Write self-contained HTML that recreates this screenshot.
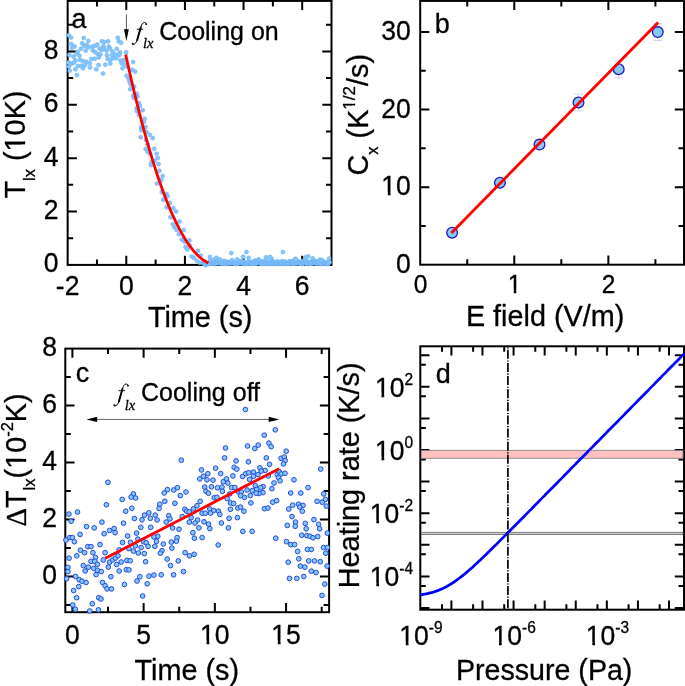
<!DOCTYPE html>
<html><head><meta charset="utf-8"><style>
html,body{margin:0;padding:0;background:#fff;width:685px;height:686px;overflow:hidden}
svg{display:block;will-change:transform}
text{font-family:"Liberation Sans", sans-serif;fill:#000;stroke:#000;stroke-width:0.3px}
.it{font-family:"Liberation Serif",serif;font-style:italic}
.sf{font-family:"Liberation Serif",serif}
</style></head><body>
<svg width="685" height="686" viewBox="0 0 685 686">
<rect width="685" height="686" fill="#fff"/>
<rect x="67.65" y="0.90" width="263.85" height="264.00" fill="none" stroke="#000" stroke-width="2.0"/>
<path d="M126.29,264.90V255.70M126.29,0.90V10.10M184.93,264.90V255.70M184.93,0.90V10.10M243.57,264.90V255.70M243.57,0.90V10.10M302.21,264.90V255.70M302.21,0.90V10.10" stroke="#000" stroke-width="2.0" fill="none"/>
<path d="M96.97,264.90V259.40M96.97,0.90V6.40M155.61,264.90V259.40M155.61,0.90V6.40M214.25,264.90V259.40M214.25,0.90V6.40M272.89,264.90V259.40M272.89,0.90V6.40" stroke="#000" stroke-width="2.0" fill="none"/>
<path d="M67.65,211.52H76.85M331.50,211.52H322.30M67.65,158.14H76.85M331.50,158.14H322.30M67.65,104.76H76.85M331.50,104.76H322.30M67.65,51.38H76.85M331.50,51.38H322.30" stroke="#000" stroke-width="2.0" fill="none"/>
<path d="M67.65,238.21H73.15M331.50,238.21H326.00M67.65,184.83H73.15M331.50,184.83H326.00M67.65,131.45H73.15M331.50,131.45H326.00M67.65,78.07H73.15M331.50,78.07H326.00M67.65,24.69H73.15M331.50,24.69H326.00" stroke="#000" stroke-width="2.0" fill="none"/>
<text transform="translate(58.40,272.30) scale(1,1.04)" font-size="26.5" text-anchor="end">0</text>
<text transform="translate(58.40,218.92) scale(1,1.04)" font-size="26.5" text-anchor="end">2</text>
<text transform="translate(58.40,165.54) scale(1,1.04)" font-size="26.5" text-anchor="end">4</text>
<text transform="translate(58.40,112.16) scale(1,1.04)" font-size="26.5" text-anchor="end">6</text>
<text transform="translate(58.40,58.78) scale(1,1.04)" font-size="26.5" text-anchor="end">8</text>
<text transform="translate(67.65,294.60) scale(1,1.04)" font-size="26.5" text-anchor="middle">-2</text>
<text transform="translate(126.29,294.60) scale(1,1.04)" font-size="26.5" text-anchor="middle">0</text>
<text transform="translate(184.93,294.60) scale(1,1.04)" font-size="26.5" text-anchor="middle">2</text>
<text transform="translate(243.57,294.60) scale(1,1.04)" font-size="26.5" text-anchor="middle">4</text>
<text transform="translate(302.21,294.60) scale(1,1.04)" font-size="26.5" text-anchor="middle">6</text>
<text x="147.90" y="327.30" font-size="28.8" text-anchor="start" >Time (s)</text>
<text transform="translate(25.4,198.5) rotate(-90)" font-size="28.8">T<tspan font-size="16.5" dy="9.8">lx</tspan><tspan dy="-9.8"> (10K)</tspan></text>
<text x="71.50" y="27.60" font-size="27" text-anchor="start" >a</text>
<g fill="#82c8ff" stroke="#6aaaf2" stroke-width="0.5"><circle cx="128.5" cy="78.5" r="2.05"/><circle cx="129.5" cy="81.6" r="2.05"/><circle cx="130.6" cy="84.4" r="2.05"/><circle cx="130.2" cy="89.2" r="2.05"/><circle cx="134.2" cy="86.5" r="2.05"/><circle cx="136.6" cy="93.6" r="2.05"/><circle cx="133.3" cy="95.5" r="2.05"/><circle cx="137.5" cy="96.5" r="2.05"/><circle cx="133.7" cy="97.9" r="2.05"/><circle cx="138.9" cy="103.1" r="2.05"/><circle cx="136.6" cy="108.3" r="2.05"/><circle cx="139.9" cy="105.9" r="2.05"/><circle cx="142.7" cy="110.2" r="2.05"/><circle cx="137.0" cy="111.1" r="2.05"/><circle cx="138.9" cy="114.9" r="2.05"/><circle cx="144.6" cy="118.7" r="2.05"/><circle cx="143.7" cy="122.0" r="2.05"/><circle cx="141.3" cy="127.2" r="2.05"/><circle cx="145.6" cy="127.1" r="2.05"/><circle cx="141.3" cy="129.9" r="2.05"/><circle cx="146.5" cy="132.0" r="2.05"/><circle cx="149.8" cy="134.8" r="2.05"/><circle cx="152.7" cy="138.1" r="2.05"/><circle cx="140.8" cy="137.2" r="2.05"/><circle cx="146.0" cy="140.0" r="2.05"/><circle cx="147.6" cy="144.3" r="2.05"/><circle cx="145.7" cy="149.0" r="2.05"/><circle cx="147.6" cy="151.8" r="2.05"/><circle cx="154.2" cy="148.7" r="2.05"/><circle cx="156.6" cy="153.7" r="2.05"/><circle cx="157.8" cy="158.0" r="2.05"/><circle cx="150.4" cy="154.2" r="2.05"/><circle cx="151.4" cy="162.3" r="2.05"/><circle cx="150.9" cy="165.1" r="2.05"/><circle cx="154.7" cy="160.8" r="2.05"/><circle cx="158.5" cy="164.1" r="2.05"/><circle cx="159.4" cy="170.8" r="2.05"/><circle cx="162.7" cy="176.0" r="2.05"/><circle cx="161.3" cy="179.8" r="2.05"/><circle cx="157.0" cy="183.6" r="2.05"/><circle cx="161.8" cy="192.1" r="2.05"/><circle cx="166.5" cy="194.0" r="2.05"/><circle cx="167.5" cy="196.3" r="2.05"/><circle cx="163.2" cy="199.7" r="2.05"/><circle cx="169.8" cy="203.0" r="2.05"/><circle cx="166.6" cy="207.3" r="2.05"/><circle cx="173.3" cy="208.2" r="2.05"/><circle cx="176.1" cy="211.5" r="2.05"/><circle cx="170.4" cy="217.2" r="2.05"/><circle cx="179.4" cy="221.5" r="2.05"/><circle cx="172.8" cy="224.3" r="2.05"/><circle cx="174.2" cy="227.1" r="2.05"/><circle cx="176.6" cy="230.0" r="2.05"/><circle cx="183.7" cy="230.0" r="2.05"/><circle cx="178.9" cy="234.2" r="2.05"/><circle cx="181.8" cy="239.5" r="2.05"/><circle cx="184.6" cy="241.8" r="2.05"/><circle cx="189.4" cy="240.4" r="2.05"/><circle cx="185.6" cy="247.0" r="2.05"/><circle cx="187.5" cy="249.4" r="2.05"/><circle cx="189.8" cy="245.6" r="2.05"/><circle cx="197.9" cy="250.8" r="2.05"/><circle cx="191.7" cy="256.5" r="2.05"/><circle cx="194.1" cy="257.9" r="2.05"/><circle cx="200.7" cy="255.6" r="2.05"/><circle cx="196.9" cy="260.8" r="2.05"/><circle cx="199.8" cy="262.7" r="2.05"/><circle cx="203.6" cy="263.6" r="2.05"/><circle cx="68.7" cy="35.2" r="2.05"/><circle cx="71.0" cy="37.5" r="2.05"/><circle cx="83.8" cy="38.0" r="2.05"/><circle cx="88.4" cy="41.0" r="2.05"/><circle cx="101.9" cy="41.3" r="2.05"/><circle cx="71.2" cy="43.9" r="2.05"/><circle cx="74.6" cy="46.4" r="2.05"/><circle cx="72.0" cy="48.1" r="2.05"/><circle cx="82.2" cy="43.2" r="2.05"/><circle cx="84.1" cy="46.0" r="2.05"/><circle cx="86.7" cy="45.0" r="2.05"/><circle cx="88.6" cy="47.3" r="2.05"/><circle cx="92.4" cy="46.6" r="2.05"/><circle cx="95.1" cy="45.8" r="2.05"/><circle cx="97.3" cy="44.5" r="2.05"/><circle cx="99.6" cy="48.5" r="2.05"/><circle cx="101.5" cy="50.0" r="2.05"/><circle cx="103.4" cy="46.2" r="2.05"/><circle cx="81.0" cy="48.8" r="2.05"/><circle cx="85.8" cy="50.6" r="2.05"/><circle cx="92.8" cy="50.3" r="2.05"/><circle cx="95.1" cy="52.1" r="2.05"/><circle cx="97.7" cy="54.1" r="2.05"/><circle cx="100.4" cy="54.5" r="2.05"/><circle cx="98.8" cy="57.5" r="2.05"/><circle cx="77.6" cy="51.9" r="2.05"/><circle cx="76.5" cy="53.8" r="2.05"/><circle cx="79.5" cy="55.7" r="2.05"/><circle cx="69.3" cy="54.9" r="2.05"/><circle cx="73.5" cy="56.8" r="2.05"/><circle cx="75.4" cy="60.6" r="2.05"/><circle cx="79.9" cy="59.8" r="2.05"/><circle cx="82.9" cy="61.0" r="2.05"/><circle cx="86.3" cy="61.7" r="2.05"/><circle cx="89.8" cy="63.2" r="2.05"/><circle cx="91.3" cy="59.1" r="2.05"/><circle cx="94.7" cy="58.7" r="2.05"/><circle cx="68.5" cy="62.5" r="2.05"/><circle cx="71.6" cy="63.6" r="2.05"/><circle cx="73.8" cy="62.8" r="2.05"/><circle cx="68.9" cy="66.6" r="2.05"/><circle cx="78.0" cy="65.9" r="2.05"/><circle cx="81.4" cy="65.7" r="2.05"/><circle cx="85.2" cy="65.1" r="2.05"/><circle cx="90.1" cy="67.4" r="2.05"/><circle cx="82.9" cy="68.2" r="2.05"/><circle cx="75.4" cy="69.3" r="2.05"/><circle cx="69.7" cy="70.8" r="2.05"/><circle cx="98.5" cy="65.1" r="2.05"/><circle cx="96.2" cy="69.3" r="2.05"/><circle cx="77.0" cy="75.0" r="2.05"/><circle cx="103.0" cy="73.5" r="2.05"/><circle cx="117.8" cy="37.7" r="2.05"/><circle cx="118.8" cy="41.3" r="2.05"/><circle cx="121.1" cy="42.8" r="2.05"/><circle cx="108.1" cy="41.3" r="2.05"/><circle cx="104.3" cy="42.0" r="2.05"/><circle cx="108.8" cy="46.6" r="2.05"/><circle cx="110.0" cy="48.8" r="2.05"/><circle cx="103.9" cy="48.8" r="2.05"/><circle cx="106.5" cy="50.7" r="2.05"/><circle cx="112.6" cy="51.5" r="2.05"/><circle cx="116.8" cy="48.8" r="2.05"/><circle cx="120.0" cy="52.4" r="2.05"/><circle cx="126.1" cy="52.4" r="2.05"/><circle cx="115.6" cy="54.5" r="2.05"/><circle cx="111.8" cy="55.3" r="2.05"/><circle cx="106.9" cy="55.3" r="2.05"/><circle cx="119.4" cy="54.9" r="2.05"/><circle cx="113.4" cy="58.3" r="2.05"/><circle cx="107.7" cy="59.1" r="2.05"/><circle cx="110.3" cy="59.8" r="2.05"/><circle cx="116.4" cy="58.3" r="2.05"/><circle cx="120.6" cy="60.6" r="2.05"/><circle cx="124.0" cy="59.8" r="2.05"/><circle cx="121.7" cy="63.2" r="2.05"/><circle cx="124.7" cy="64.4" r="2.05"/><circle cx="133.1" cy="62.1" r="2.05"/><circle cx="110.3" cy="63.6" r="2.05"/><circle cx="105.4" cy="64.7" r="2.05"/><circle cx="122.5" cy="68.2" r="2.05"/><circle cx="127.0" cy="66.6" r="2.05"/><circle cx="132.3" cy="69.7" r="2.05"/><circle cx="135.0" cy="71.6" r="2.05"/><circle cx="126.6" cy="75.7" r="2.05"/><circle cx="204.3" cy="263.3" r="2.05"/><circle cx="204.9" cy="261.6" r="2.05"/><circle cx="205.4" cy="264.9" r="2.05"/><circle cx="206.0" cy="264.9" r="2.05"/><circle cx="206.5" cy="263.2" r="2.05"/><circle cx="207.1" cy="263.9" r="2.05"/><circle cx="207.6" cy="263.2" r="2.05"/><circle cx="208.1" cy="263.2" r="2.05"/><circle cx="208.7" cy="263.8" r="2.05"/><circle cx="209.2" cy="263.9" r="2.05"/><circle cx="209.8" cy="261.8" r="2.05"/><circle cx="210.3" cy="260.9" r="2.05"/><circle cx="210.8" cy="261.0" r="2.05"/><circle cx="211.4" cy="260.3" r="2.05"/><circle cx="211.9" cy="263.7" r="2.05"/><circle cx="212.5" cy="263.1" r="2.05"/><circle cx="213.0" cy="263.8" r="2.05"/><circle cx="213.6" cy="263.2" r="2.05"/><circle cx="214.1" cy="262.7" r="2.05"/><circle cx="214.6" cy="259.3" r="2.05"/><circle cx="215.2" cy="263.0" r="2.05"/><circle cx="215.7" cy="263.8" r="2.05"/><circle cx="216.3" cy="262.0" r="2.05"/><circle cx="216.8" cy="261.8" r="2.05"/><circle cx="217.4" cy="262.6" r="2.05"/><circle cx="217.9" cy="262.9" r="2.05"/><circle cx="218.4" cy="260.3" r="2.05"/><circle cx="219.0" cy="263.0" r="2.05"/><circle cx="219.5" cy="262.9" r="2.05"/><circle cx="220.1" cy="262.9" r="2.05"/><circle cx="220.6" cy="262.9" r="2.05"/><circle cx="221.2" cy="263.2" r="2.05"/><circle cx="221.7" cy="262.1" r="2.05"/><circle cx="222.2" cy="263.7" r="2.05"/><circle cx="222.8" cy="262.1" r="2.05"/><circle cx="223.3" cy="262.7" r="2.05"/><circle cx="223.9" cy="260.8" r="2.05"/><circle cx="224.4" cy="263.8" r="2.05"/><circle cx="225.0" cy="262.9" r="2.05"/><circle cx="225.5" cy="263.4" r="2.05"/><circle cx="226.0" cy="261.5" r="2.05"/><circle cx="226.6" cy="263.5" r="2.05"/><circle cx="227.1" cy="263.8" r="2.05"/><circle cx="227.7" cy="262.2" r="2.05"/><circle cx="228.2" cy="263.3" r="2.05"/><circle cx="228.7" cy="262.9" r="2.05"/><circle cx="229.3" cy="262.9" r="2.05"/><circle cx="229.8" cy="262.3" r="2.05"/><circle cx="230.4" cy="263.0" r="2.05"/><circle cx="230.9" cy="263.4" r="2.05"/><circle cx="231.5" cy="260.7" r="2.05"/><circle cx="232.0" cy="262.5" r="2.05"/><circle cx="232.5" cy="260.4" r="2.05"/><circle cx="233.1" cy="263.0" r="2.05"/><circle cx="233.6" cy="263.2" r="2.05"/><circle cx="234.2" cy="263.6" r="2.05"/><circle cx="234.7" cy="263.1" r="2.05"/><circle cx="235.3" cy="263.8" r="2.05"/><circle cx="235.8" cy="262.3" r="2.05"/><circle cx="236.3" cy="262.6" r="2.05"/><circle cx="236.9" cy="263.7" r="2.05"/><circle cx="237.4" cy="263.0" r="2.05"/><circle cx="238.0" cy="260.8" r="2.05"/><circle cx="238.5" cy="263.4" r="2.05"/><circle cx="239.1" cy="262.6" r="2.05"/><circle cx="239.6" cy="262.8" r="2.05"/><circle cx="240.1" cy="262.7" r="2.05"/><circle cx="240.7" cy="261.5" r="2.05"/><circle cx="241.2" cy="261.7" r="2.05"/><circle cx="241.8" cy="263.5" r="2.05"/><circle cx="242.3" cy="262.4" r="2.05"/><circle cx="242.9" cy="263.1" r="2.05"/><circle cx="243.4" cy="262.7" r="2.05"/><circle cx="243.9" cy="261.9" r="2.05"/><circle cx="244.5" cy="263.7" r="2.05"/><circle cx="245.0" cy="263.9" r="2.05"/><circle cx="245.6" cy="263.4" r="2.05"/><circle cx="246.1" cy="264.0" r="2.05"/><circle cx="246.6" cy="263.5" r="2.05"/><circle cx="247.2" cy="262.7" r="2.05"/><circle cx="247.7" cy="262.9" r="2.05"/><circle cx="248.3" cy="263.4" r="2.05"/><circle cx="248.8" cy="261.6" r="2.05"/><circle cx="249.4" cy="263.0" r="2.05"/><circle cx="249.9" cy="262.8" r="2.05"/><circle cx="250.4" cy="263.9" r="2.05"/><circle cx="251.0" cy="263.2" r="2.05"/><circle cx="251.5" cy="263.7" r="2.05"/><circle cx="252.1" cy="262.0" r="2.05"/><circle cx="252.6" cy="263.2" r="2.05"/><circle cx="253.2" cy="263.9" r="2.05"/><circle cx="253.7" cy="261.5" r="2.05"/><circle cx="254.2" cy="263.7" r="2.05"/><circle cx="254.8" cy="262.1" r="2.05"/><circle cx="255.3" cy="260.5" r="2.05"/><circle cx="255.9" cy="262.4" r="2.05"/><circle cx="256.4" cy="263.7" r="2.05"/><circle cx="257.0" cy="262.7" r="2.05"/><circle cx="257.5" cy="262.5" r="2.05"/><circle cx="258.0" cy="261.5" r="2.05"/><circle cx="258.6" cy="259.3" r="2.05"/><circle cx="259.1" cy="261.0" r="2.05"/><circle cx="259.7" cy="262.1" r="2.05"/><circle cx="260.2" cy="262.7" r="2.05"/><circle cx="260.8" cy="263.9" r="2.05"/><circle cx="261.3" cy="261.3" r="2.05"/><circle cx="261.8" cy="263.6" r="2.05"/><circle cx="262.4" cy="263.6" r="2.05"/><circle cx="262.9" cy="262.6" r="2.05"/><circle cx="263.5" cy="263.7" r="2.05"/><circle cx="264.0" cy="261.3" r="2.05"/><circle cx="264.5" cy="263.9" r="2.05"/><circle cx="265.1" cy="262.4" r="2.05"/><circle cx="265.6" cy="262.4" r="2.05"/><circle cx="266.2" cy="263.7" r="2.05"/><circle cx="266.7" cy="263.4" r="2.05"/><circle cx="267.3" cy="260.7" r="2.05"/><circle cx="267.8" cy="262.5" r="2.05"/><circle cx="268.3" cy="263.9" r="2.05"/><circle cx="268.9" cy="263.2" r="2.05"/><circle cx="269.4" cy="263.8" r="2.05"/><circle cx="270.0" cy="263.5" r="2.05"/><circle cx="270.5" cy="263.9" r="2.05"/><circle cx="271.1" cy="262.9" r="2.05"/><circle cx="271.6" cy="258.8" r="2.05"/><circle cx="272.1" cy="261.8" r="2.05"/><circle cx="272.7" cy="262.1" r="2.05"/><circle cx="273.2" cy="262.2" r="2.05"/><circle cx="273.8" cy="263.9" r="2.05"/><circle cx="274.3" cy="263.9" r="2.05"/><circle cx="274.9" cy="263.1" r="2.05"/><circle cx="275.4" cy="262.3" r="2.05"/><circle cx="275.9" cy="262.9" r="2.05"/><circle cx="276.5" cy="261.9" r="2.05"/><circle cx="277.0" cy="264.0" r="2.05"/><circle cx="277.6" cy="261.2" r="2.05"/><circle cx="278.1" cy="263.2" r="2.05"/><circle cx="278.7" cy="263.4" r="2.05"/><circle cx="279.2" cy="263.6" r="2.05"/><circle cx="279.7" cy="263.8" r="2.05"/><circle cx="280.3" cy="263.5" r="2.05"/><circle cx="280.8" cy="262.1" r="2.05"/><circle cx="281.4" cy="264.0" r="2.05"/><circle cx="281.9" cy="263.1" r="2.05"/><circle cx="282.4" cy="261.1" r="2.05"/><circle cx="283.0" cy="262.4" r="2.05"/><circle cx="283.5" cy="262.9" r="2.05"/><circle cx="284.1" cy="263.6" r="2.05"/><circle cx="284.6" cy="263.6" r="2.05"/><circle cx="285.2" cy="261.5" r="2.05"/><circle cx="285.7" cy="263.9" r="2.05"/><circle cx="286.2" cy="262.9" r="2.05"/><circle cx="286.8" cy="263.2" r="2.05"/><circle cx="287.3" cy="263.4" r="2.05"/><circle cx="287.9" cy="263.9" r="2.05"/><circle cx="288.4" cy="263.3" r="2.05"/><circle cx="289.0" cy="263.6" r="2.05"/><circle cx="289.5" cy="261.4" r="2.05"/><circle cx="290.0" cy="262.6" r="2.05"/><circle cx="290.6" cy="262.7" r="2.05"/><circle cx="291.1" cy="261.8" r="2.05"/><circle cx="291.7" cy="263.5" r="2.05"/><circle cx="292.2" cy="263.7" r="2.05"/><circle cx="292.8" cy="262.4" r="2.05"/><circle cx="293.3" cy="260.7" r="2.05"/><circle cx="293.8" cy="263.6" r="2.05"/><circle cx="294.4" cy="263.5" r="2.05"/><circle cx="294.9" cy="262.2" r="2.05"/><circle cx="295.5" cy="258.8" r="2.05"/><circle cx="296.0" cy="263.6" r="2.05"/><circle cx="296.6" cy="260.8" r="2.05"/><circle cx="297.1" cy="263.0" r="2.05"/><circle cx="297.6" cy="262.9" r="2.05"/><circle cx="298.2" cy="261.6" r="2.05"/><circle cx="298.7" cy="262.5" r="2.05"/><circle cx="299.3" cy="263.2" r="2.05"/><circle cx="299.8" cy="263.6" r="2.05"/><circle cx="300.3" cy="263.5" r="2.05"/><circle cx="300.9" cy="263.9" r="2.05"/><circle cx="301.4" cy="263.8" r="2.05"/><circle cx="302.0" cy="261.0" r="2.05"/><circle cx="302.5" cy="263.9" r="2.05"/><circle cx="303.1" cy="263.3" r="2.05"/><circle cx="303.6" cy="261.7" r="2.05"/><circle cx="304.1" cy="262.8" r="2.05"/><circle cx="304.7" cy="261.2" r="2.05"/><circle cx="305.2" cy="262.9" r="2.05"/><circle cx="305.8" cy="260.4" r="2.05"/><circle cx="306.3" cy="262.7" r="2.05"/><circle cx="306.9" cy="263.9" r="2.05"/><circle cx="307.4" cy="262.1" r="2.05"/><circle cx="307.9" cy="262.1" r="2.05"/><circle cx="308.5" cy="262.3" r="2.05"/><circle cx="309.0" cy="263.2" r="2.05"/><circle cx="309.6" cy="263.8" r="2.05"/><circle cx="310.1" cy="263.4" r="2.05"/><circle cx="310.7" cy="261.7" r="2.05"/><circle cx="311.2" cy="263.7" r="2.05"/><circle cx="311.7" cy="262.4" r="2.05"/><circle cx="312.3" cy="262.7" r="2.05"/><circle cx="312.8" cy="263.3" r="2.05"/><circle cx="313.4" cy="262.3" r="2.05"/><circle cx="313.9" cy="262.0" r="2.05"/><circle cx="314.5" cy="262.7" r="2.05"/><circle cx="315.0" cy="260.9" r="2.05"/><circle cx="315.5" cy="263.0" r="2.05"/><circle cx="316.1" cy="263.4" r="2.05"/><circle cx="316.6" cy="262.2" r="2.05"/><circle cx="317.2" cy="263.7" r="2.05"/><circle cx="317.7" cy="262.9" r="2.05"/><circle cx="318.2" cy="261.3" r="2.05"/><circle cx="318.8" cy="262.4" r="2.05"/><circle cx="319.3" cy="262.2" r="2.05"/><circle cx="319.9" cy="259.7" r="2.05"/><circle cx="320.4" cy="263.9" r="2.05"/><circle cx="321.0" cy="262.6" r="2.05"/><circle cx="321.5" cy="262.3" r="2.05"/><circle cx="322.0" cy="263.9" r="2.05"/><circle cx="322.6" cy="261.5" r="2.05"/><circle cx="323.1" cy="262.9" r="2.05"/><circle cx="323.7" cy="262.6" r="2.05"/><circle cx="324.2" cy="261.6" r="2.05"/><circle cx="324.8" cy="263.3" r="2.05"/><circle cx="325.3" cy="262.8" r="2.05"/><circle cx="325.8" cy="263.7" r="2.05"/><circle cx="326.4" cy="263.9" r="2.05"/><circle cx="326.9" cy="263.8" r="2.05"/><circle cx="327.5" cy="262.4" r="2.05"/><circle cx="328.0" cy="263.9" r="2.05"/><circle cx="328.6" cy="262.9" r="2.05"/><circle cx="329.1" cy="258.6" r="2.05"/><circle cx="329.6" cy="262.2" r="2.05"/><circle cx="231.3" cy="253.1" r="2.05"/><circle cx="246.5" cy="252.1" r="2.05"/><circle cx="209.9" cy="256.9" r="2.05"/><circle cx="216.4" cy="257.9" r="2.05"/><circle cx="219.9" cy="259.4" r="2.05"/><circle cx="243.2" cy="256.9" r="2.05"/><circle cx="248.7" cy="257.9" r="2.05"/><circle cx="237.2" cy="259.4" r="2.05"/><circle cx="266.0" cy="257.4" r="2.05"/><circle cx="282.9" cy="252.1" r="2.05"/><circle cx="270.0" cy="256.9" r="2.05"/><circle cx="295.8" cy="259.4" r="2.05"/><circle cx="305.7" cy="257.4" r="2.05"/><circle cx="308.2" cy="256.4" r="2.05"/><circle cx="312.7" cy="258.4" r="2.05"/><circle cx="321.6" cy="259.9" r="2.05"/></g>
<polyline points="125.7,54.6 127.1,61.0 128.5,67.3 129.9,73.5 131.3,79.6 132.7,85.6 134.1,91.5 135.5,97.3 136.9,103.0 138.3,108.6 139.7,114.1 141.1,119.5 142.5,124.8 143.9,130.0 145.3,135.1 146.7,140.1 148.1,145.0 149.5,149.9 150.9,154.6 152.3,159.2 153.7,163.7 155.1,168.1 156.5,172.5 157.9,176.7 159.3,180.8 160.7,184.8 162.1,188.8 163.5,192.6 164.9,196.3 166.3,199.9 167.7,203.5 169.1,206.9 170.5,210.2 171.9,213.5 173.4,216.6 174.8,219.7 176.2,222.6 177.6,225.4 179.0,228.2 180.4,230.8 181.8,233.4 183.2,235.8 184.6,238.2 186.0,240.4 187.4,242.6 188.8,244.6 190.2,246.6 191.6,248.4 193.0,250.2 194.4,251.8 195.8,253.4 197.2,254.8 198.6,256.2 200.0,257.5 201.4,258.6 202.8,259.7 204.2,260.7 205.6,261.5 207.0,262.3 208.4,263.0" fill="none" stroke="#ff0000" stroke-width="2.8"/>
<path d="M126.4,14.4V33" stroke="#3a3a3a" stroke-width="0.85"/>
<path d="M124.0,29.3L128.8,29.3L126.4,40.9Z" fill="#000"/>
<g transform="translate(0,0)" fill="none" stroke="#000" stroke-linecap="round"><path d="M146.4,24.1C146.2,22.6 144.6,22.0 143.2,22.9C141.8,23.9 141.2,26.0 140.6,28.0L137.0,40.4C136.2,42.6 135.0,44.4 133.4,44.5" stroke-width="1.0"/><path d="M140.7,27.5L137.2,40.0" stroke-width="1.9"/><path d="M137.1,29.2H142.9" stroke-width="0.9"/><circle cx="146.2" cy="24.2" r="0.9" fill="#000" stroke="none"/><circle cx="132.7" cy="43.7" r="0.95" fill="#000" stroke="none"/></g>
<text x="143.0" y="48.4" class="it" font-size="14.5">lx</text>
<text x="159.20" y="39.90" font-size="25" text-anchor="start" >Cooling on</text>
<rect x="420.20" y="0.90" width="263.80" height="263.80" fill="none" stroke="#000" stroke-width="2.0"/>
<path d="M514.28,264.70V255.50M514.28,0.90V10.10M608.36,264.70V255.50M608.36,0.90V10.10" stroke="#000" stroke-width="2.0" fill="none"/>
<path d="M467.24,264.70V259.20M467.24,0.90V6.40M561.32,264.70V259.20M561.32,0.90V6.40M655.40,264.70V259.20M655.40,0.90V6.40" stroke="#000" stroke-width="2.0" fill="none"/>
<path d="M420.20,187.13H429.40M684.00,187.13H674.80M420.20,109.56H429.40M684.00,109.56H674.80M420.20,31.99H429.40M684.00,31.99H674.80" stroke="#000" stroke-width="2.0" fill="none"/>
<path d="M420.20,225.91H425.70M684.00,225.91H678.50M420.20,148.34H425.70M684.00,148.34H678.50M420.20,70.78H425.70M684.00,70.78H678.50" stroke="#000" stroke-width="2.0" fill="none"/>
<text transform="translate(410.80,272.80) scale(1,1.04)" font-size="26.5" text-anchor="end">0</text>
<text transform="translate(410.80,195.23) scale(1,1.04)" font-size="26.5" text-anchor="end">10</text>
<text transform="translate(410.80,117.66) scale(1,1.04)" font-size="26.5" text-anchor="end">20</text>
<text transform="translate(410.80,40.09) scale(1,1.04)" font-size="26.5" text-anchor="end">30</text>
<text transform="translate(420.50,293.00) scale(1,1.04)" font-size="24.5" text-anchor="middle">0</text>
<text transform="translate(514.58,293.00) scale(1,1.04)" font-size="24.5" text-anchor="middle">1</text>
<text transform="translate(608.66,293.00) scale(1,1.04)" font-size="24.5" text-anchor="middle">2</text>
<text x="465.90" y="325.50" font-size="28.8" text-anchor="start" >E field (V/m)</text>
<text transform="translate(368.2,175.5) rotate(-90)" font-size="28.8">C<tspan font-size="16.5" dy="9.8">x</tspan><tspan dy="-9.8"> (K</tspan><tspan font-size="17" dy="-13.5">1/2</tspan><tspan dy="13.5">/s)</tspan></text>
<text x="434.70" y="32.70" font-size="27" text-anchor="start" >b</text>
<path d="M574.0,110.9H583.0M574.0,94.1H583.0M578.5,94.1V110.9M614.2,77.7H623.2M614.2,60.9H623.2M618.7,60.9V77.7M653.3,40.5H662.3M653.3,23.7H662.3M657.8,23.7V40.5" stroke="#c8c8f0" stroke-width="0.8" fill="none"/>
<g fill="#86c8fa" stroke="#1c1cbe" stroke-width="1.3"><circle cx="452.1" cy="232.8" r="5.35"/><circle cx="499.9" cy="182.8" r="5.35"/><circle cx="539.5" cy="144.6" r="5.35"/><circle cx="578.5" cy="102.5" r="5.35"/><circle cx="618.7" cy="69.3" r="5.35"/><circle cx="657.8" cy="32.1" r="5.35"/></g>
<line x1="451.4" y1="232.9" x2="658.1" y2="22.6" stroke="#ff0000" stroke-width="2.8"/>
<rect x="65.30" y="348.60" width="263.80" height="263.60" fill="none" stroke="#000" stroke-width="2.0"/>
<path d="M72.40,612.20V603.00M72.40,348.60V357.80M143.62,612.20V603.00M143.62,348.60V357.80M214.85,612.20V603.00M214.85,348.60V357.80M286.07,612.20V603.00M286.07,348.60V357.80" stroke="#000" stroke-width="2.0" fill="none"/>
<path d="M108.01,612.20V606.70M108.01,348.60V354.10M179.24,612.20V606.70M179.24,348.60V354.10M250.46,612.20V606.70M250.46,348.60V354.10M321.69,612.20V606.70M321.69,348.60V354.10" stroke="#000" stroke-width="2.0" fill="none"/>
<path d="M65.30,576.40H74.50M329.10,576.40H319.90M65.30,519.40H74.50M329.10,519.40H319.90M65.30,462.40H74.50M329.10,462.40H319.90M65.30,405.40H74.50M329.10,405.40H319.90" stroke="#000" stroke-width="2.0" fill="none"/>
<path d="M65.30,604.90H70.80M329.10,604.90H323.60M65.30,547.90H70.80M329.10,547.90H323.60M65.30,490.90H70.80M329.10,490.90H323.60M65.30,433.90H70.80M329.10,433.90H323.60M65.30,376.90H70.80M329.10,376.90H323.60" stroke="#000" stroke-width="2.0" fill="none"/>
<text transform="translate(57.00,584.00) scale(1,1.04)" font-size="26.5" text-anchor="end">0</text>
<text transform="translate(57.00,527.00) scale(1,1.04)" font-size="26.5" text-anchor="end">2</text>
<text transform="translate(57.00,470.00) scale(1,1.04)" font-size="26.5" text-anchor="end">4</text>
<text transform="translate(57.00,413.00) scale(1,1.04)" font-size="26.5" text-anchor="end">6</text>
<text transform="translate(57.00,356.00) scale(1,1.04)" font-size="26.5" text-anchor="end">8</text>
<text transform="translate(72.40,644.00) scale(1,1.04)" font-size="26.5" text-anchor="middle">0</text>
<text transform="translate(143.62,644.00) scale(1,1.04)" font-size="26.5" text-anchor="middle">5</text>
<text transform="translate(214.85,644.00) scale(1,1.04)" font-size="26.5" text-anchor="middle">10</text>
<text transform="translate(286.07,644.00) scale(1,1.04)" font-size="26.5" text-anchor="middle">15</text>
<text x="134.50" y="680.20" font-size="28.8" text-anchor="start" >Time (s)</text>
<text transform="translate(25.6,526.5) rotate(-90)" font-size="28.8"><tspan class="sf">Δ</tspan>T<tspan font-size="16.5" dy="9.8">lx</tspan><tspan dy="-9.8">(10</tspan><tspan font-size="16.5" dy="-13">-2</tspan><tspan dy="13">K)</tspan></text>
<text x="75.80" y="382.20" font-size="27" text-anchor="start" >c</text>
<path d="M92,419.45H273" stroke="#4a4a4a" stroke-width="0.85"/>
<path d="M86.4,419.4L97.1,416.85L97.1,421.95Z" fill="#000"/>
<path d="M279.2,419.4L268.7,416.85L268.7,421.95Z" fill="#000"/>
<g transform="translate(-18.3,361.5)" fill="none" stroke="#000" stroke-linecap="round"><path d="M146.4,24.1C146.2,22.6 144.6,22.0 143.2,22.9C141.8,23.9 141.2,26.0 140.6,28.0L137.0,40.4C136.2,42.6 135.0,44.4 133.4,44.5" stroke-width="1.0"/><path d="M140.7,27.5L137.2,40.0" stroke-width="1.9"/><path d="M137.1,29.2H142.9" stroke-width="0.9"/><circle cx="146.2" cy="24.2" r="0.9" fill="#000" stroke="none"/><circle cx="132.7" cy="43.7" r="0.95" fill="#000" stroke="none"/></g>
<text x="124.7" y="409.9" class="it" font-size="14.5">lx</text>
<text x="141.00" y="401.20" font-size="25" text-anchor="start" >Cooling off</text>
<g fill="#80c8ff" stroke="#2b48d8" stroke-width="1.0"><circle cx="107.9" cy="482.3" r="2.35"/><circle cx="122.2" cy="499.4" r="2.35"/><circle cx="133.4" cy="493.9" r="2.35"/><circle cx="131.1" cy="497.1" r="2.35"/><circle cx="135.6" cy="498.0" r="2.35"/><circle cx="106.4" cy="504.8" r="2.35"/><circle cx="131.8" cy="508.3" r="2.35"/><circle cx="125.7" cy="511.2" r="2.35"/><circle cx="68.9" cy="514.1" r="2.35"/><circle cx="77.5" cy="512.1" r="2.35"/><circle cx="71.1" cy="521.2" r="2.35"/><circle cx="101.9" cy="522.1" r="2.35"/><circle cx="134.4" cy="518.5" r="2.35"/><circle cx="142.0" cy="519.8" r="2.35"/><circle cx="144.5" cy="515.1" r="2.35"/><circle cx="148.8" cy="512.9" r="2.35"/><circle cx="150.3" cy="518.3" r="2.35"/><circle cx="123.5" cy="523.2" r="2.35"/><circle cx="86.5" cy="526.6" r="2.35"/><circle cx="94.2" cy="527.9" r="2.35"/><circle cx="109.6" cy="530.5" r="2.35"/><circle cx="114.1" cy="528.6" r="2.35"/><circle cx="115.1" cy="532.7" r="2.35"/><circle cx="104.1" cy="533.7" r="2.35"/><circle cx="80.1" cy="534.4" r="2.35"/><circle cx="69.8" cy="537.6" r="2.35"/><circle cx="72.4" cy="537.6" r="2.35"/><circle cx="74.3" cy="541.7" r="2.35"/><circle cx="65.9" cy="540.1" r="2.35"/><circle cx="127.6" cy="536.0" r="2.35"/><circle cx="136.6" cy="533.1" r="2.35"/><circle cx="140.8" cy="527.3" r="2.35"/><circle cx="150.7" cy="527.3" r="2.35"/><circle cx="122.5" cy="542.4" r="2.35"/><circle cx="130.5" cy="542.4" r="2.35"/><circle cx="137.9" cy="539.1" r="2.35"/><circle cx="143.6" cy="541.7" r="2.35"/><circle cx="146.2" cy="542.7" r="2.35"/><circle cx="148.1" cy="546.3" r="2.35"/><circle cx="100.0" cy="544.6" r="2.35"/><circle cx="87.8" cy="546.6" r="2.35"/><circle cx="91.0" cy="546.6" r="2.35"/><circle cx="80.4" cy="550.2" r="2.35"/><circle cx="84.6" cy="552.7" r="2.35"/><circle cx="92.9" cy="552.7" r="2.35"/><circle cx="105.1" cy="552.7" r="2.35"/><circle cx="76.8" cy="555.8" r="2.35"/><circle cx="69.1" cy="558.1" r="2.35"/><circle cx="95.5" cy="557.5" r="2.35"/><circle cx="103.2" cy="560.0" r="2.35"/><circle cx="91.0" cy="561.3" r="2.35"/><circle cx="94.8" cy="561.3" r="2.35"/><circle cx="97.4" cy="564.3" r="2.35"/><circle cx="109.6" cy="562.2" r="2.35"/><circle cx="112.6" cy="560.0" r="2.35"/><circle cx="115.4" cy="558.1" r="2.35"/><circle cx="118.0" cy="555.8" r="2.35"/><circle cx="119.2" cy="549.8" r="2.35"/><circle cx="121.2" cy="562.0" r="2.35"/><circle cx="126.9" cy="560.4" r="2.35"/><circle cx="130.2" cy="560.7" r="2.35"/><circle cx="128.9" cy="548.5" r="2.35"/><circle cx="133.4" cy="551.1" r="2.35"/><circle cx="135.3" cy="545.9" r="2.35"/><circle cx="141.1" cy="547.6" r="2.35"/><circle cx="138.3" cy="553.0" r="2.35"/><circle cx="144.3" cy="553.6" r="2.35"/><circle cx="145.6" cy="561.7" r="2.35"/><circle cx="83.3" cy="565.6" r="2.35"/><circle cx="88.4" cy="567.1" r="2.35"/><circle cx="67.9" cy="567.4" r="2.35"/><circle cx="67.9" cy="571.6" r="2.35"/><circle cx="93.8" cy="568.4" r="2.35"/><circle cx="97.4" cy="570.3" r="2.35"/><circle cx="101.3" cy="571.6" r="2.35"/><circle cx="108.3" cy="567.1" r="2.35"/><circle cx="116.7" cy="564.5" r="2.35"/><circle cx="119.2" cy="571.0" r="2.35"/><circle cx="126.3" cy="569.7" r="2.35"/><circle cx="128.9" cy="569.9" r="2.35"/><circle cx="85.2" cy="571.0" r="2.35"/><circle cx="96.1" cy="574.6" r="2.35"/><circle cx="75.6" cy="576.4" r="2.35"/><circle cx="66.6" cy="578.7" r="2.35"/><circle cx="79.2" cy="579.7" r="2.35"/><circle cx="82.0" cy="581.2" r="2.35"/><circle cx="86.1" cy="582.5" r="2.35"/><circle cx="110.9" cy="576.7" r="2.35"/><circle cx="102.5" cy="582.5" r="2.35"/><circle cx="105.1" cy="585.7" r="2.35"/><circle cx="107.0" cy="588.9" r="2.35"/><circle cx="111.5" cy="588.9" r="2.35"/><circle cx="124.4" cy="584.5" r="2.35"/><circle cx="139.8" cy="576.7" r="2.35"/><circle cx="137.0" cy="581.0" r="2.35"/><circle cx="147.2" cy="583.8" r="2.35"/><circle cx="149.0" cy="576.1" r="2.35"/><circle cx="78.8" cy="586.6" r="2.35"/><circle cx="73.6" cy="590.5" r="2.35"/><circle cx="76.6" cy="597.7" r="2.35"/><circle cx="98.7" cy="597.7" r="2.35"/><circle cx="101.0" cy="599.0" r="2.35"/><circle cx="92.3" cy="603.7" r="2.35"/><circle cx="142.6" cy="596.0" r="2.35"/><circle cx="72.7" cy="605.0" r="2.35"/><circle cx="75.3" cy="609.2" r="2.35"/><circle cx="89.7" cy="611.0" r="2.35"/><circle cx="98.4" cy="609.8" r="2.35"/><circle cx="225.5" cy="448.0" r="2.35"/><circle cx="224.6" cy="457.9" r="2.35"/><circle cx="181.3" cy="460.2" r="2.35"/><circle cx="236.1" cy="460.9" r="2.35"/><circle cx="201.5" cy="469.9" r="2.35"/><circle cx="215.6" cy="468.2" r="2.35"/><circle cx="220.7" cy="473.6" r="2.35"/><circle cx="234.2" cy="467.3" r="2.35"/><circle cx="236.8" cy="469.1" r="2.35"/><circle cx="207.9" cy="473.7" r="2.35"/><circle cx="203.4" cy="476.2" r="2.35"/><circle cx="199.8" cy="478.9" r="2.35"/><circle cx="207.0" cy="479.8" r="2.35"/><circle cx="213.0" cy="480.1" r="2.35"/><circle cx="223.3" cy="481.7" r="2.35"/><circle cx="226.5" cy="478.9" r="2.35"/><circle cx="227.8" cy="483.0" r="2.35"/><circle cx="232.9" cy="475.9" r="2.35"/><circle cx="204.7" cy="487.1" r="2.35"/><circle cx="211.4" cy="486.8" r="2.35"/><circle cx="217.5" cy="487.8" r="2.35"/><circle cx="222.0" cy="487.1" r="2.35"/><circle cx="222.4" cy="491.3" r="2.35"/><circle cx="231.6" cy="487.5" r="2.35"/><circle cx="234.9" cy="487.5" r="2.35"/><circle cx="167.4" cy="489.6" r="2.35"/><circle cx="164.2" cy="493.0" r="2.35"/><circle cx="173.8" cy="490.0" r="2.35"/><circle cx="177.4" cy="487.7" r="2.35"/><circle cx="180.3" cy="495.6" r="2.35"/><circle cx="186.0" cy="492.0" r="2.35"/><circle cx="206.0" cy="491.3" r="2.35"/><circle cx="208.5" cy="493.2" r="2.35"/><circle cx="214.3" cy="497.7" r="2.35"/><circle cx="216.9" cy="497.4" r="2.35"/><circle cx="227.2" cy="498.6" r="2.35"/><circle cx="229.7" cy="493.9" r="2.35"/><circle cx="238.7" cy="492.0" r="2.35"/><circle cx="164.8" cy="501.3" r="2.35"/><circle cx="159.7" cy="504.2" r="2.35"/><circle cx="159.1" cy="508.4" r="2.35"/><circle cx="174.9" cy="503.3" r="2.35"/><circle cx="200.2" cy="501.3" r="2.35"/><circle cx="197.0" cy="505.7" r="2.35"/><circle cx="193.4" cy="508.9" r="2.35"/><circle cx="184.8" cy="509.3" r="2.35"/><circle cx="186.7" cy="511.2" r="2.35"/><circle cx="189.3" cy="511.9" r="2.35"/><circle cx="230.6" cy="502.9" r="2.35"/><circle cx="233.6" cy="503.5" r="2.35"/><circle cx="230.4" cy="509.3" r="2.35"/><circle cx="237.8" cy="508.0" r="2.35"/><circle cx="209.8" cy="509.0" r="2.35"/><circle cx="213.7" cy="510.6" r="2.35"/><circle cx="210.5" cy="513.2" r="2.35"/><circle cx="218.5" cy="511.2" r="2.35"/><circle cx="219.8" cy="514.4" r="2.35"/><circle cx="202.1" cy="513.2" r="2.35"/><circle cx="205.3" cy="513.2" r="2.35"/><circle cx="155.2" cy="515.1" r="2.35"/><circle cx="168.7" cy="515.7" r="2.35"/><circle cx="170.0" cy="518.9" r="2.35"/><circle cx="157.1" cy="520.0" r="2.35"/><circle cx="182.2" cy="516.6" r="2.35"/><circle cx="191.2" cy="517.6" r="2.35"/><circle cx="197.6" cy="520.0" r="2.35"/><circle cx="204.0" cy="521.8" r="2.35"/><circle cx="229.1" cy="518.3" r="2.35"/><circle cx="237.4" cy="517.6" r="2.35"/><circle cx="189.3" cy="522.1" r="2.35"/><circle cx="195.0" cy="523.0" r="2.35"/><circle cx="166.1" cy="522.1" r="2.35"/><circle cx="221.4" cy="523.0" r="2.35"/><circle cx="208.5" cy="524.1" r="2.35"/><circle cx="247.5" cy="446.0" r="2.35"/><circle cx="254.8" cy="448.5" r="2.35"/><circle cx="258.2" cy="445.1" r="2.35"/><circle cx="268.9" cy="443.1" r="2.35"/><circle cx="271.1" cy="446.7" r="2.35"/><circle cx="286.2" cy="451.2" r="2.35"/><circle cx="248.4" cy="461.8" r="2.35"/><circle cx="266.3" cy="457.9" r="2.35"/><circle cx="269.5" cy="464.3" r="2.35"/><circle cx="281.1" cy="458.3" r="2.35"/><circle cx="284.3" cy="457.0" r="2.35"/><circle cx="285.2" cy="460.5" r="2.35"/><circle cx="283.4" cy="464.0" r="2.35"/><circle cx="259.9" cy="467.8" r="2.35"/><circle cx="265.1" cy="470.4" r="2.35"/><circle cx="261.2" cy="471.1" r="2.35"/><circle cx="242.6" cy="476.5" r="2.35"/><circle cx="245.8" cy="473.7" r="2.35"/><circle cx="248.7" cy="472.7" r="2.35"/><circle cx="253.5" cy="472.0" r="2.35"/><circle cx="253.5" cy="476.3" r="2.35"/><circle cx="258.0" cy="474.6" r="2.35"/><circle cx="249.6" cy="479.4" r="2.35"/><circle cx="268.3" cy="475.9" r="2.35"/><circle cx="277.3" cy="474.6" r="2.35"/><circle cx="279.2" cy="471.7" r="2.35"/><circle cx="281.1" cy="474.0" r="2.35"/><circle cx="285.0" cy="473.3" r="2.35"/><circle cx="278.5" cy="477.6" r="2.35"/><circle cx="280.1" cy="480.8" r="2.35"/><circle cx="274.0" cy="483.0" r="2.35"/><circle cx="294.0" cy="479.8" r="2.35"/><circle cx="320.7" cy="469.1" r="2.35"/><circle cx="308.1" cy="487.5" r="2.35"/><circle cx="255.4" cy="485.8" r="2.35"/><circle cx="263.1" cy="486.6" r="2.35"/><circle cx="260.6" cy="487.8" r="2.35"/><circle cx="256.7" cy="489.4" r="2.35"/><circle cx="247.1" cy="490.0" r="2.35"/><circle cx="252.2" cy="490.7" r="2.35"/><circle cx="241.3" cy="492.0" r="2.35"/><circle cx="262.9" cy="492.6" r="2.35"/><circle cx="259.0" cy="493.5" r="2.35"/><circle cx="256.1" cy="493.2" r="2.35"/><circle cx="271.9" cy="488.7" r="2.35"/><circle cx="250.3" cy="495.6" r="2.35"/><circle cx="244.5" cy="497.4" r="2.35"/><circle cx="240.6" cy="495.6" r="2.35"/><circle cx="290.7" cy="493.0" r="2.35"/><circle cx="300.8" cy="493.0" r="2.35"/><circle cx="323.8" cy="493.9" r="2.35"/><circle cx="325.4" cy="499.4" r="2.35"/><circle cx="322.2" cy="502.2" r="2.35"/><circle cx="317.1" cy="501.3" r="2.35"/><circle cx="326.3" cy="506.1" r="2.35"/><circle cx="250.9" cy="502.9" r="2.35"/><circle cx="272.8" cy="502.2" r="2.35"/><circle cx="276.6" cy="500.7" r="2.35"/><circle cx="292.7" cy="505.1" r="2.35"/><circle cx="298.5" cy="504.2" r="2.35"/><circle cx="302.9" cy="505.4" r="2.35"/><circle cx="299.7" cy="507.1" r="2.35"/><circle cx="288.8" cy="509.0" r="2.35"/><circle cx="302.3" cy="511.2" r="2.35"/><circle cx="264.4" cy="508.7" r="2.35"/><circle cx="268.0" cy="508.0" r="2.35"/><circle cx="243.9" cy="511.2" r="2.35"/><circle cx="240.6" cy="507.1" r="2.35"/><circle cx="292.0" cy="516.6" r="2.35"/><circle cx="313.9" cy="519.6" r="2.35"/><circle cx="295.5" cy="522.1" r="2.35"/><circle cx="305.3" cy="523.4" r="2.35"/><circle cx="318.6" cy="524.3" r="2.35"/><circle cx="287.3" cy="525.4" r="2.35"/><circle cx="172.6" cy="527.9" r="2.35"/><circle cx="179.0" cy="529.2" r="2.35"/><circle cx="198.9" cy="527.9" r="2.35"/><circle cx="209.8" cy="528.6" r="2.35"/><circle cx="228.4" cy="527.9" r="2.35"/><circle cx="192.9" cy="532.7" r="2.35"/><circle cx="194.4" cy="538.2" r="2.35"/><circle cx="202.1" cy="537.6" r="2.35"/><circle cx="218.2" cy="545.0" r="2.35"/><circle cx="157.8" cy="536.3" r="2.35"/><circle cx="153.9" cy="536.9" r="2.35"/><circle cx="156.5" cy="541.4" r="2.35"/><circle cx="177.1" cy="537.6" r="2.35"/><circle cx="171.3" cy="542.1" r="2.35"/><circle cx="176.4" cy="541.2" r="2.35"/><circle cx="163.3" cy="544.0" r="2.35"/><circle cx="154.8" cy="546.3" r="2.35"/><circle cx="171.9" cy="548.1" r="2.35"/><circle cx="162.0" cy="550.7" r="2.35"/><circle cx="160.4" cy="553.2" r="2.35"/><circle cx="185.1" cy="552.7" r="2.35"/><circle cx="189.5" cy="555.8" r="2.35"/><circle cx="194.1" cy="554.3" r="2.35"/><circle cx="167.2" cy="559.1" r="2.35"/><circle cx="178.3" cy="560.9" r="2.35"/><circle cx="170.6" cy="565.6" r="2.35"/><circle cx="183.5" cy="571.6" r="2.35"/><circle cx="153.9" cy="575.1" r="2.35"/><circle cx="161.2" cy="574.8" r="2.35"/><circle cx="173.6" cy="574.8" r="2.35"/><circle cx="242.8" cy="531.4" r="2.35"/><circle cx="252.2" cy="531.4" r="2.35"/><circle cx="275.7" cy="538.2" r="2.35"/><circle cx="295.2" cy="526.3" r="2.35"/><circle cx="306.2" cy="528.8" r="2.35"/><circle cx="319.6" cy="528.8" r="2.35"/><circle cx="301.7" cy="535.2" r="2.35"/><circle cx="306.8" cy="535.6" r="2.35"/><circle cx="310.0" cy="536.3" r="2.35"/><circle cx="313.0" cy="537.8" r="2.35"/><circle cx="317.7" cy="536.5" r="2.35"/><circle cx="327.4" cy="533.1" r="2.35"/><circle cx="286.5" cy="541.7" r="2.35"/><circle cx="290.7" cy="544.6" r="2.35"/><circle cx="294.6" cy="544.6" r="2.35"/><circle cx="297.6" cy="551.4" r="2.35"/><circle cx="307.4" cy="549.4" r="2.35"/><circle cx="311.3" cy="549.4" r="2.35"/><circle cx="323.5" cy="547.6" r="2.35"/><circle cx="327.4" cy="547.6" r="2.35"/><circle cx="325.8" cy="553.2" r="2.35"/><circle cx="298.8" cy="558.8" r="2.35"/><circle cx="288.2" cy="562.2" r="2.35"/><circle cx="308.7" cy="560.9" r="2.35"/><circle cx="314.5" cy="560.9" r="2.35"/><circle cx="320.3" cy="561.7" r="2.35"/><circle cx="300.4" cy="566.1" r="2.35"/><circle cx="304.9" cy="567.1" r="2.35"/><circle cx="327.1" cy="566.1" r="2.35"/><circle cx="311.3" cy="571.2" r="2.35"/><circle cx="316.1" cy="572.5" r="2.35"/><circle cx="289.5" cy="578.4" r="2.35"/><circle cx="296.8" cy="578.4" r="2.35"/><circle cx="303.8" cy="576.4" r="2.35"/><circle cx="324.8" cy="584.1" r="2.35"/><circle cx="322.0" cy="595.4" r="2.35"/><circle cx="245.4" cy="409.5" r="2.35"/><circle cx="275.3" cy="429.8" r="2.35"/><circle cx="264.2" cy="435.2" r="2.35"/></g>
<line x1="105.3" y1="558.3" x2="279.2" y2="468.7" stroke="#ff0000" stroke-width="2.8"/>
<rect x="420.30" y="346.30" width="263.70" height="263.40" fill="none" stroke="#000" stroke-width="2.0"/>
<path d="M451.39,609.70V600.50M451.39,346.30V355.50M482.48,609.70V600.50M482.48,346.30V355.50M513.57,609.70V600.50M513.57,346.30V355.50M544.66,609.70V600.50M544.66,346.30V355.50M575.75,609.70V600.50M575.75,346.30V355.50M606.84,609.70V600.50M606.84,346.30V355.50M637.93,609.70V600.50M637.93,346.30V355.50M669.02,609.70V600.50M669.02,346.30V355.50" stroke="#000" stroke-width="2.0" fill="none"/>
<path d="M442.03,609.70V604.20M442.03,346.30V351.80M473.12,609.70V604.20M473.12,346.30V351.80M504.21,609.70V604.20M504.21,346.30V351.80M535.30,609.70V604.20M535.30,346.30V351.80M566.39,609.70V604.20M566.39,346.30V351.80M597.48,609.70V604.20M597.48,346.30V351.80M628.57,609.70V604.20M628.57,346.30V351.80M659.66,609.70V604.20M659.66,346.30V351.80M690.75,609.70V604.20M690.75,346.30V351.80" stroke="#000" stroke-width="2.0" fill="none"/>
<path d="M420.30,608.00H429.50M684.00,608.00H674.80M420.30,576.40H429.50M684.00,576.40H674.80M420.30,544.80H429.50M684.00,544.80H674.80M420.30,513.20H429.50M684.00,513.20H674.80M420.30,481.60H429.50M684.00,481.60H674.80M420.30,450.00H429.50M684.00,450.00H674.80M420.30,418.40H429.50M684.00,418.40H674.80M420.30,386.80H429.50M684.00,386.80H674.80M420.30,355.20H429.50M684.00,355.20H674.80" stroke="#000" stroke-width="2.0" fill="none"/>
<path d="M420.30,585.91H425.80M684.00,585.91H678.50M420.30,554.31H425.80M684.00,554.31H678.50M420.30,522.71H425.80M684.00,522.71H678.50M420.30,491.11H425.80M684.00,491.11H678.50M420.30,459.51H425.80M684.00,459.51H678.50M420.30,427.91H425.80M684.00,427.91H678.50M420.30,396.31H425.80M684.00,396.31H678.50M420.30,364.71H425.80M684.00,364.71H678.50" stroke="#000" stroke-width="2.0" fill="none"/>
<path d="M421.3,450.4H683.0V458.3H421.3Z" fill="#ffc0c0" stroke="#858585" stroke-width="0.9"/>
<path d="M421.3,532.4H683.0V534.5H421.3Z" fill="#d0d0d0" stroke="#6e6e6e" stroke-width="0.9"/>
<polyline points="420.3,594.9 421.3,594.7 422.3,594.6 423.3,594.4 424.3,594.2 425.3,594.0 426.3,593.8 427.3,593.6 428.3,593.4 429.3,593.2 430.3,592.9 431.3,592.7 432.3,592.4 433.3,592.1 434.3,591.8 435.3,591.4 436.3,591.1 437.3,590.7 438.3,590.4 439.3,590.0 440.3,589.5 441.3,589.1 442.3,588.7 443.3,588.2 444.3,587.7 445.3,587.2 446.3,586.7 447.3,586.1 448.3,585.6 449.3,585.0 450.3,584.4 451.3,583.8 452.3,583.1 453.3,582.5 454.3,581.8 455.3,581.1 456.3,580.4 457.3,579.7 458.3,579.0 459.3,578.2 460.3,577.4 461.3,576.7 462.3,575.9 463.3,575.1 464.3,574.3 465.3,573.4 466.3,572.6 467.3,571.7 468.3,570.9 469.3,570.0 470.3,569.1 471.3,568.3 472.3,567.4 473.3,566.5 474.3,565.5 475.3,564.6 476.3,563.7 477.3,562.8 478.3,561.8 479.3,560.9 480.3,560.0 481.3,559.0 482.3,558.1 483.3,557.1 484.3,556.1 485.3,555.2 486.3,554.2 487.3,553.2 488.3,552.2 489.3,551.3 490.3,550.3 491.3,549.3 492.3,548.3 493.3,547.3 494.3,546.3 495.3,545.3 496.3,544.4 497.3,543.4 498.3,542.4 499.3,541.4 500.3,540.4 501.3,539.4 502.3,538.4 503.3,537.4 504.3,536.4 505.3,535.4 506.3,534.3 507.3,533.3 508.3,532.3 509.3,531.3 510.3,530.3 511.3,529.3 512.3,528.3 513.3,527.3 514.3,526.3 515.3,525.3 516.3,524.3 517.3,523.2 518.3,522.2 519.3,521.2 520.3,520.2 521.3,519.2 522.3,518.2 523.3,517.2 524.3,516.2 525.3,515.1 526.3,514.1 527.3,513.1 528.3,512.1 529.3,511.1 530.3,510.1 531.3,509.1 532.3,508.0 533.3,507.0 534.3,506.0 535.3,505.0 536.3,504.0 537.3,503.0 538.3,502.0 539.3,500.9 540.3,499.9 541.3,498.9 542.3,497.9 543.3,496.9 544.3,495.9 545.3,494.8 546.3,493.8 547.3,492.8 548.3,491.8 549.3,490.8 550.3,489.8 551.3,488.7 552.3,487.7 553.3,486.7 554.3,485.7 555.3,484.7 556.3,483.7 557.3,482.7 558.3,481.6 559.3,480.6 560.3,479.6 561.3,478.6 562.3,477.6 563.3,476.6 564.3,475.5 565.3,474.5 566.3,473.5 567.3,472.5 568.3,471.5 569.3,470.5 570.3,469.4 571.3,468.4 572.3,467.4 573.3,466.4 574.3,465.4 575.3,464.4 576.3,463.3 577.3,462.3 578.3,461.3 579.3,460.3 580.3,459.3 581.3,458.3 582.3,457.2 583.3,456.2 584.3,455.2 585.3,454.2 586.3,453.2 587.3,452.2 588.3,451.1 589.3,450.1 590.3,449.1 591.3,448.1 592.3,447.1 593.3,446.1 594.3,445.0 595.3,444.0 596.3,443.0 597.3,442.0 598.3,441.0 599.3,440.0 600.3,439.0 601.3,437.9 602.3,436.9 603.3,435.9 604.3,434.9 605.3,433.9 606.3,432.9 607.3,431.8 608.3,430.8 609.3,429.8 610.3,428.8 611.3,427.8 612.3,426.8 613.3,425.7 614.3,424.7 615.3,423.7 616.3,422.7 617.3,421.7 618.3,420.7 619.3,419.6 620.3,418.6 621.3,417.6 622.3,416.6 623.3,415.6 624.3,414.6 625.3,413.5 626.3,412.5 627.3,411.5 628.3,410.5 629.3,409.5 630.3,408.5 631.3,407.4 632.3,406.4 633.3,405.4 634.3,404.4 635.3,403.4 636.3,402.4 637.3,401.3 638.3,400.3 639.3,399.3 640.3,398.3 641.3,397.3 642.3,396.3 643.3,395.2 644.3,394.2 645.3,393.2 646.3,392.2 647.3,391.2 648.3,390.2 649.3,389.1 650.3,388.1 651.3,387.1 652.3,386.1 653.3,385.1 654.3,384.1 655.3,383.0 656.3,382.0 657.3,381.0 658.3,380.0 659.3,379.0 660.3,378.0 661.3,377.0 662.3,375.9 663.3,374.9 664.3,373.9 665.3,372.9 666.3,371.9 667.3,370.9 668.3,369.8 669.3,368.8 670.3,367.8 671.3,366.8 672.3,365.8 673.3,364.8 674.3,363.7 675.3,362.7 676.3,361.7 677.3,360.7 678.3,359.7 679.3,358.7 680.3,357.6 681.3,356.6 682.3,355.6 683.3,354.6 684.3,353.6" fill="none" stroke="#0000ff" stroke-width="2.75"/>
<path d="M507.9,347.4V608.7" stroke="#000" stroke-width="1.7" stroke-dasharray="9.0 1.6 1.1 1.42" stroke-dashoffset="-2.45"/>
<text transform="translate(413.10,586.40) scale(1,1.04)" font-size="26.5" text-anchor="end">10<tspan font-size="15.5" dy="-11.6">-4</tspan></text>
<text transform="translate(413.10,523.20) scale(1,1.04)" font-size="26.5" text-anchor="end">10<tspan font-size="15.5" dy="-11.6">-2</tspan></text>
<text transform="translate(413.10,460.00) scale(1,1.04)" font-size="26.5" text-anchor="end">10<tspan font-size="15.5" dy="-11.6">0</tspan></text>
<text transform="translate(413.10,396.80) scale(1,1.04)" font-size="26.5" text-anchor="end">10<tspan font-size="15.5" dy="-11.6">2</tspan></text>
<text transform="translate(420.90,645.30) scale(1,1.04)" font-size="26.5" text-anchor="middle">10<tspan font-size="15.5" dy="-11.6">-9</tspan></text>
<text transform="translate(514.17,645.30) scale(1,1.04)" font-size="26.5" text-anchor="middle">10<tspan font-size="15.5" dy="-11.6">-6</tspan></text>
<text transform="translate(607.44,645.30) scale(1,1.04)" font-size="26.5" text-anchor="middle">10<tspan font-size="15.5" dy="-11.6">-3</tspan></text>
<text x="456.00" y="679.90" font-size="28.6" text-anchor="start" >Pressure (Pa)</text>
<text transform="translate(358.6,588.2) rotate(-90)" font-size="28.8">Heating rate (K/s)</text>
<text x="435.80" y="382.70" font-size="27" text-anchor="start" >d</text>
<g transform="translate(25.4,198.5) rotate(-90)" fill="#fff"><rect x="48.19" y="-3.55" width="5.93" height="5.25"/><rect x="57.10" y="-3.55" width="5.55" height="5.25"/></g>
<g transform="translate(410.80,195.23) scale(1,1.04)" fill="#fff"><rect x="-28.55" y="-3.38" width="5.53" height="5.08"/><rect x="-20.24" y="-3.38" width="5.17" height="5.08"/></g>
<g transform="translate(514.58,293.00) scale(1,1.04)" fill="#fff"><rect x="-6.05" y="-3.23" width="5.17" height="4.93"/><rect x="1.73" y="-3.23" width="4.83" height="4.93"/></g>
<g transform="translate(368.2,175.5) rotate(-90)" fill="#fff"><rect x="66.05" y="-16.17" width="3.86" height="4.37"/><rect x="71.86" y="-16.17" width="3.18" height="4.37"/></g>
<g transform="translate(214.85,644.00) scale(1,1.04)" fill="#fff"><rect x="-13.82" y="-3.38" width="5.53" height="5.08"/><rect x="-5.51" y="-3.38" width="5.17" height="5.08"/></g>
<g transform="translate(286.07,644.00) scale(1,1.04)" fill="#fff"><rect x="-13.82" y="-3.38" width="5.53" height="5.08"/><rect x="-5.51" y="-3.38" width="5.17" height="5.08"/></g>
<g transform="translate(25.6,526.5) rotate(-90)" fill="#fff"><rect x="58.72" y="-3.55" width="5.93" height="5.25"/><rect x="67.63" y="-3.55" width="5.55" height="5.25"/></g>
<g transform="translate(413.10,586.40) scale(1,1.04)" fill="#fff"><rect x="-42.32" y="-3.38" width="5.53" height="5.08"/><rect x="-34.01" y="-3.38" width="5.17" height="5.08"/></g>
<g transform="translate(413.10,523.20) scale(1,1.04)" fill="#fff"><rect x="-42.32" y="-3.38" width="5.53" height="5.08"/><rect x="-34.01" y="-3.38" width="5.17" height="5.08"/></g>
<g transform="translate(413.10,460.00) scale(1,1.04)" fill="#fff"><rect x="-37.17" y="-3.38" width="5.53" height="5.08"/><rect x="-28.86" y="-3.38" width="5.17" height="5.08"/></g>
<g transform="translate(413.10,396.80) scale(1,1.04)" fill="#fff"><rect x="-37.17" y="-3.38" width="5.53" height="5.08"/><rect x="-28.86" y="-3.38" width="5.17" height="5.08"/></g>
<g transform="translate(420.90,645.30) scale(1,1.04)" fill="#fff"><rect x="-20.70" y="-3.38" width="5.53" height="5.08"/><rect x="-12.39" y="-3.38" width="5.17" height="5.08"/></g>
<g transform="translate(514.17,645.30) scale(1,1.04)" fill="#fff"><rect x="-20.70" y="-3.38" width="5.53" height="5.08"/><rect x="-12.39" y="-3.38" width="5.17" height="5.08"/></g>
<g transform="translate(607.44,645.30) scale(1,1.04)" fill="#fff"><rect x="-20.70" y="-3.38" width="5.53" height="5.08"/><rect x="-12.39" y="-3.38" width="5.17" height="5.08"/></g>
</svg></body></html>
